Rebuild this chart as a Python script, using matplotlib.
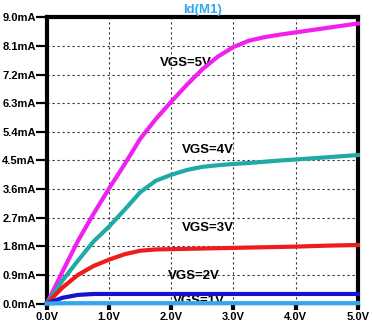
import matplotlib
matplotlib.use("Agg")
import matplotlib.pyplot as plt

plt.rcParams["font.family"] = ["Liberation Sans", "DejaVu Sans"]

# drain voltage sweep (V) and drain current (mA) for each gate voltage
vds = [0.0, 0.25, 0.5, 0.75, 1.0, 1.25, 1.5, 1.75, 2.0, 2.25, 2.5, 2.75, 3.0, 3.25, 3.5, 3.75, 4.0, 4.5, 5.0]
id_vgs5 = [0.0, 1.0, 1.97, 2.82, 3.62, 4.38, 5.18, 5.8, 6.35, 6.88, 7.37, 7.77, 8.07, 8.27, 8.38, 8.46, 8.53, 8.67, 8.81]
id_vgs4 = [0.0, 0.72, 1.35, 1.95, 2.42, 2.95, 3.5, 3.86, 4.05, 4.2, 4.3, 4.35, 4.39, 4.42, 4.46, 4.5, 4.53, 4.6, 4.67]
id_vgs3 = [0.0, 0.5, 0.9, 1.18, 1.38, 1.55, 1.66, 1.7, 1.71, 1.72, 1.73, 1.74, 1.75, 1.76, 1.77, 1.78, 1.79, 1.82, 1.84]
id_vgs2 = [0.0, 0.18, 0.27, 0.3, 0.3, 0.3, 0.3, 0.3, 0.3, 0.3, 0.3, 0.3, 0.3, 0.3, 0.3, 0.3, 0.3, 0.3, 0.3]
id_vgs1 = [0.0, 0.01, 0.01, 0.01, 0.01, 0.01, 0.01, 0.01, 0.01, 0.01, 0.01, 0.01, 0.01, 0.01, 0.01, 0.01, 0.01, 0.01, 0.01]

x_ticks = [0, 1, 2, 3, 4, 5]
x_labels = ["0.0V", "1.0V", "2.0V", "3.0V", "4.0V", "5.0V"]
y_ticks = [0.0, 0.9, 1.8, 2.7, 3.6, 4.5, 5.4, 6.3, 7.2, 8.1, 9.0]
y_labels = ["%.1fmA" % v for v in y_ticks]

curves = [
    (id_vgs5, "#f020f0", "VGS=5V", (1.81, 7.56)),
    (id_vgs4, "#20aaa6", "VGS=4V", (2.17, 4.83)),
    (id_vgs3, "#ee1c1c", "VGS=3V", (2.17, 2.36)),
    (id_vgs2, "#1414d0", "VGS=2V", (1.94, 0.86)),
    (id_vgs1, "#30a8ec", "VGS=1V", (2.02, 0.08)),
]

fig = plt.figure(figsize=(3.72, 3.29), dpi=100)
ax = fig.add_axes([0.126, 0.0775, 0.836, 0.8695])

for ys, color, label, pos in curves:
    ax.plot(vds, ys, color=color, linewidth=3, zorder=5, clip_on=False,
            solid_joinstyle="round")
    ax.text(pos[0], pos[1], label, fontsize=9.5, fontweight="bold", color="black",
            ha="left", va="center", zorder=4)

ax.set_xlim(0, 5)
ax.set_ylim(0, 9)
ax.set_xticks(x_ticks)
ax.set_xticklabels(x_labels, fontsize=8, fontweight="bold")
ax.set_yticks(y_ticks)
ax.set_yticklabels(y_labels, fontsize=8, fontweight="bold")
ax.tick_params(axis="y", direction="out", length=8, width=1.6, pad=0)
ax.tick_params(axis="x", direction="out", length=4, width=3, pad=2)
ax.grid(True, color="#333333", linestyle=(0, (2, 2.5)), linewidth=0.8)

for side in ["left", "top", "right", "bottom"]:
    ax.spines[side].set_linewidth(3)
    ax.spines[side].set_color("black")
ax.spines["bottom"].set_linewidth(1.5)

ax.set_title("Id(M1)", color="#30a8ec", fontsize=9.5, fontweight="bold", pad=3)

fig.savefig("out.png", dpi=100)
